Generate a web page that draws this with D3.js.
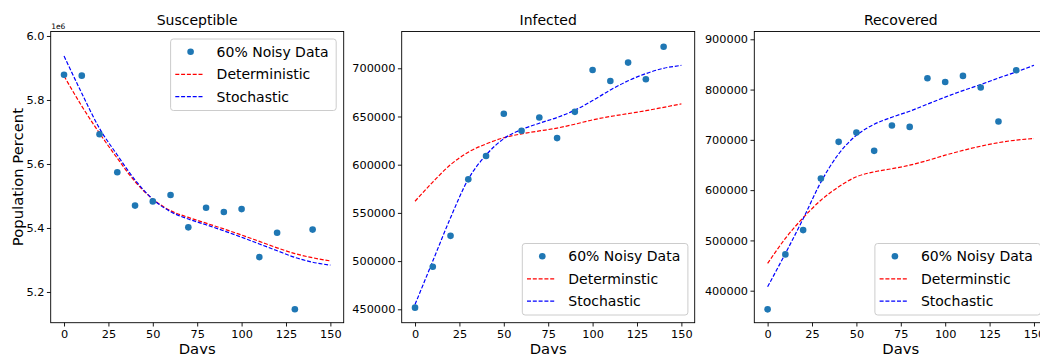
<!DOCTYPE html>
<html>
<head>
<meta charset="utf-8">
<script src="https://cdn.jsdelivr.net/npm/d3@7"></script>
<style>
  html, body { margin: 0; padding: 0; background: #fff; }
  svg { display: block; font-family: "DejaVu Sans", sans-serif; }
</style>
</head>
<body>
<svg id="chart" width="1040" height="354"></svg>
<script>
// ---------- data ----------
const days = [0, 10, 20, 30, 40, 50, 60, 70, 80, 90, 100, 110, 120, 130, 140, 150];
const noisyDays = [0, 10, 20, 30, 40, 50, 60, 70, 80, 90, 100, 110, 120, 130, 140];
const xTicks = [0, 25, 50, 75, 100, 125, 150];

const susNoisy = [5879000, 5876000, 5693000, 5574000, 5470000, 5483000, 5503000, 5402000, 5463000, 5450000, 5459000, 5309000, 5385000, 5146000, 5395000];
const susDet   = [5875000, 5781000, 5696000, 5618000, 5545000, 5490000, 5454000, 5433000, 5415000, 5397000, 5378000, 5358000, 5338000, 5320000, 5307000, 5297000];
const susSto   = [5937500, 5821000, 5711000, 5628000, 5550000, 5490000, 5451000, 5428000, 5410000, 5391000, 5371000, 5350000, 5329000, 5308000, 5293000, 5284000];
const susTicks = [5200000, 5400000, 5600000, 5800000, 6000000];

const infNoisy = [451700, 494100, 526200, 584800, 609000, 652800, 635200, 649000, 627600, 654800, 698300, 686900, 705900, 688600, 722400];
const infDet   = [562100, 582000, 600000, 613000, 621500, 628000, 632000, 635000, 638000, 642000, 646500, 650000, 653000, 656000, 659500, 663100];
const infSto   = [455000, 500000, 545000, 585000, 610000, 627000, 636500, 643000, 649000, 656500, 666500, 677500, 687000, 694500, 700000, 703000];
const infTicks = [450000, 500000, 550000, 600000, 650000, 700000];

const recNoisy = [362900, 472200, 520500, 623200, 696000, 714600, 678100, 728500, 725800, 822500, 815200, 827200, 804000, 736400, 838400];
const recDet   = [454300, 504000, 545000, 580000, 606600, 626500, 636400, 642500, 649700, 659000, 669500, 679000, 687400, 694500, 699500, 702600];
const recSto   = [407900, 474000, 543000, 616000, 672000, 709000, 731000, 745000, 757000, 771000, 785000, 798000, 810000, 823000, 835000, 848300];
const recTicks = [400000, 500000, 600000, 700000, 800000, 900000];

const legendNoisy = "60% Noisy Data";

// ---------- layout ----------
const svg = d3.select("#chart");
const plotTop = 31.5, plotH = 291.2, plotW = 293;
const panels = [
  { left: 50.7, title: "Susceptible", noisy: susNoisy, det: susDet, sto: susSto, ticks: susTicks,
    domain: [5104000, 6014000], fmt: v => (v / 1e6).toFixed(1), offset: "1e6", ylabel: "Population Percent",
    legendPos: "tr", detLabel: "Deterministic" },
  { left: 401.7, title: "Infected", noisy: infNoisy, det: infDet, sto: infSto, ticks: infTicks,
    domain: [436100, 738170], fmt: d3.format("d"), legendPos: "br", detLabel: "Determinstic" },
  { left: 754.3, title: "Recovered", noisy: recNoisy, det: recDet, sto: recSto, ticks: recTicks,
    domain: [336360, 915500], fmt: d3.format("d"), legendPos: "br", detLabel: "Determinstic" }
];

const blue = "#1f77b4";

panels.forEach((p, pi) => {
  const x = d3.scaleLinear().domain([-7.5, 157.5]).range([p.left, p.left + plotW]);
  const y = d3.scaleLinear().domain(p.domain).range([plotTop + plotH, plotTop]);
  const g = svg.append("g");

  const clipId = "clip" + pi;
  svg.append("clipPath").attr("id", clipId).append("rect")
    .attr("x", p.left).attr("y", plotTop).attr("width", plotW).attr("height", plotH);

  const plot = g.append("g").attr("clip-path", `url(#${clipId})`);
  const line = d3.line().x((d, i) => x(days[i])).y(d => y(d)).curve(d3.curveMonotoneX);

  plot.append("path").datum(p.det).attr("d", line)
    .attr("fill", "none").attr("stroke", "#ff0000").attr("stroke-width", 1.2).attr("stroke-dasharray", "4,1.8");
  plot.append("path").datum(p.sto).attr("d", line)
    .attr("fill", "none").attr("stroke", "#0000ff").attr("stroke-width", 1.2).attr("stroke-dasharray", "4,1.8");

  plot.selectAll("circle.pt").data(p.noisy).enter().append("circle")
    .attr("class", "pt")
    .attr("cx", (d, i) => x(noisyDays[i])).attr("cy", d => y(d)).attr("r", 3.3).attr("fill", blue);

  // axes
  const xAxis = d3.axisBottom(x).tickValues(xTicks).tickSize(3.8).tickPadding(3.5).tickFormat(d3.format("d"));
  const yAxis = d3.axisLeft(y).tickValues(p.ticks).tickSize(3.8).tickPadding(2.5).tickFormat(p.fmt);

  const gx = g.append("g").attr("transform", `translate(0,${plotTop + plotH})`).call(xAxis);
  const gy = g.append("g").attr("transform", `translate(${p.left},0)`).call(yAxis);
  [gx, gy].forEach(a => {
    a.select(".domain").remove();
    a.selectAll("text").attr("font-size", "11.3px").attr("fill", "#000").attr("font-family", "DejaVu Sans");
    a.selectAll("line").attr("stroke", "#000").attr("stroke-width", 0.9);
  });

  // frame
  g.append("rect").attr("x", p.left).attr("y", plotTop).attr("width", plotW).attr("height", plotH)
    .attr("fill", "none").attr("stroke", "#000").attr("stroke-width", 0.9);

  // title
  g.append("text").attr("x", p.left + plotW / 2).attr("y", plotTop - 6.6)
    .attr("text-anchor", "middle").attr("font-size", "14px").text(p.title);

  // x label
  g.append("text").attr("x", p.left + plotW / 2).attr("y", 353.5)
    .attr("text-anchor", "middle").attr("font-size", "14.8px").text("Days");

  if (p.ylabel) {
    g.append("text").attr("transform", `translate(23,${plotTop + plotH / 2}) rotate(-90)`)
      .attr("text-anchor", "middle").attr("font-size", "14.8px").text(p.ylabel);
  }
  if (p.offset) {
    g.append("text").attr("x", p.left + 0.5).attr("y", plotTop - 2.5)
      .attr("font-size", "7.5px").text(p.offset);
  }

  // legend
  const lw = 165.6, lh = 71.5;
  let lx, ly;
  if (p.legendPos === "tr") { lx = p.left + plotW - 7.5 - lw; ly = plotTop + 7.5; }
  else { lx = p.left + plotW - 6.8 - lw; ly = plotTop + plotH - 7.7 - lh; }
  const lg = g.append("g").attr("transform", `translate(${lx},${ly})`);
  lg.append("rect").attr("width", lw).attr("height", lh).attr("rx", 2.8)
    .attr("fill", "#fff").attr("fill-opacity", 0.8).attr("stroke", "#cccccc").attr("stroke-width", 1);
  const rows = [12.7, 35.3, 57.7];
  lg.append("circle").attr("cx", 20).attr("cy", rows[0]).attr("r", 3.3).attr("fill", blue);
  lg.append("line").attr("x1", 4.7).attr("x2", 32.3).attr("y1", rows[1]).attr("y2", rows[1])
    .attr("stroke", "#ff0000").attr("stroke-width", 1.2).attr("stroke-dasharray", "4,1.8");
  lg.append("line").attr("x1", 4.7).attr("x2", 32.3).attr("y1", rows[2]).attr("y2", rows[2])
    .attr("stroke", "#0000ff").attr("stroke-width", 1.2).attr("stroke-dasharray", "4,1.8");
  const labels = [legendNoisy, p.detLabel, "Stochastic"];
  labels.forEach((t, i) => {
    lg.append("text").attr("x", 46).attr("y", rows[i] + 5).attr("font-size", "14px").text(t);
  });
});
</script>
</body>
</html>
